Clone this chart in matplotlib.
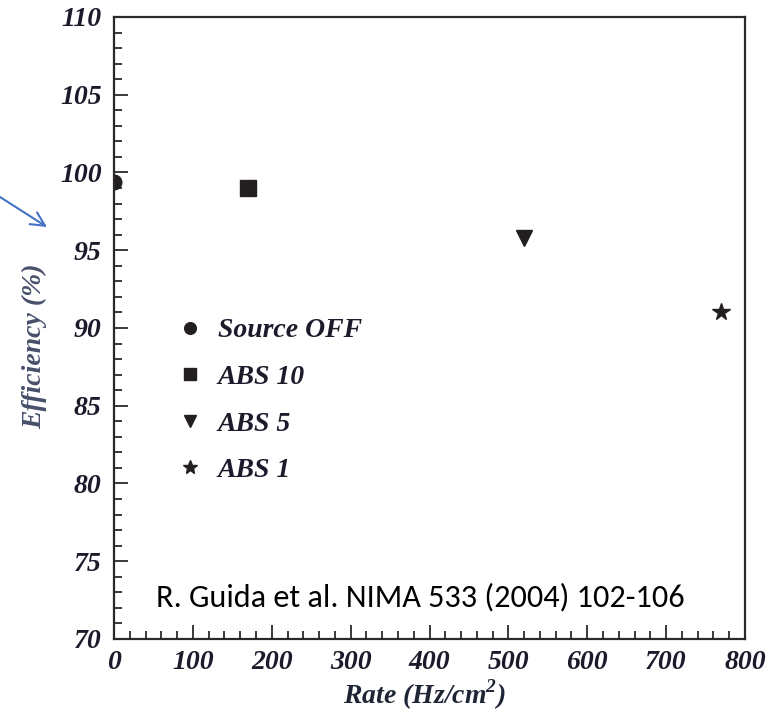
import matplotlib
matplotlib.use("Agg")
import matplotlib.pyplot as plt
from matplotlib.font_manager import FontProperties
from matplotlib.ticker import MultipleLocator

plt.rcParams["mathtext.fontset"] = "custom"
plt.rcParams["mathtext.bf"] = "Liberation Serif:bold:italic"
plt.rcParams["mathtext.rm"] = "Liberation Serif:bold:italic"

# Data
labels = ["Source OFF", "ABS 10", "ABS 5", "ABS 1"]
rates = [0, 170, 520, 770]
efficiency = [99.4, 99.0, 95.8, 91.0]
markers = ["o", "s", "v", "*"]
msizes = [10.5, 11.5, 11.5, 13]
xticks = [0, 100, 200, 300, 400, 500, 600, 700, 800]
yticks = [70, 75, 80, 85, 90, 95, 100, 105, 110]

W, H = 779, 713
fig = plt.figure(figsize=(W / 100, H / 100), dpi=100)
ax = fig.add_axes([114 / W, 1 - 639 / H, (745 - 114) / W, (639 - 17) / H])

mc = "#231f20"
handles = []
for lab, x, y, m, s in zip(labels, rates, efficiency, markers, msizes):
    h, = ax.plot([x], [y], linestyle="none", marker=m, markersize=s,
                 color=mc, label=lab)
    handles.append(h)

ax.set_xlim(0, 800)
ax.set_ylim(70, 110)
ax.set_xticks(xticks)
ax.set_yticks(yticks)
ax.xaxis.set_minor_locator(MultipleLocator(20))
ax.yaxis.set_minor_locator(MultipleLocator(1))

for sp in ax.spines.values():
    sp.set_linewidth(1.6)
    sp.set_color("#2a2a2a")

ax.tick_params(which="both", direction="in", top=False, right=False,
               color="#2a2a2a", width=1.3)
ax.tick_params(which="major", length=10)
ax.tick_params(which="minor", length=5.5)
ax.tick_params(axis="y", which="major", pad=9)
ax.tick_params(axis="x", which="major", pad=8)

tfont = dict(family="Liberation Serif", weight="bold", style="italic", size=20)
for lab in ax.get_xticklabels() + ax.get_yticklabels():
    lab.set_fontproperties(FontProperties(**tfont))
    lab.set_color("#1b1b2b")

fig.text(424 / W, 1 - 695 / H, "Rate (Hz/cm$^\\mathbf{2}$)", ha="center", va="center",
         color="#1f2535", **tfont)
fig.text(35 / W, 1 - 346 / H, "Efficiency (%)", ha="center", va="center",
         rotation=90, color="#46506a", **tfont)

leg = ax.legend(handles=handles, loc="upper left",
                bbox_to_anchor=(182 / W, 1 - 318 / H), bbox_transform=fig.transFigure,
                frameon=False, markerscale=0.8, handlelength=0.6, handletextpad=0.69,
                labelspacing=0.76, borderpad=0, borderaxespad=0,
                prop=FontProperties(**tfont))
for t in leg.get_texts():
    t.set_color("#1b1b2b")

fig.text(420 / W, 1 - 597 / H, "R. Guida et al. NIMA 533 (2004) 102-106",
         ha="center", va="center", family="Carlito", size=23.2, color="black")

ax.annotate("", xy=(47 / W, 1 - 227 / H), xytext=(0 / W, 1 - 197 / H),
            xycoords="figure fraction", textcoords="figure fraction",
            arrowprops=dict(arrowstyle="->,head_length=1.0,head_width=0.5",
                            color="#4472c4", lw=1.5, shrinkA=0, shrinkB=0))

fig.savefig("out.png", dpi=100)
